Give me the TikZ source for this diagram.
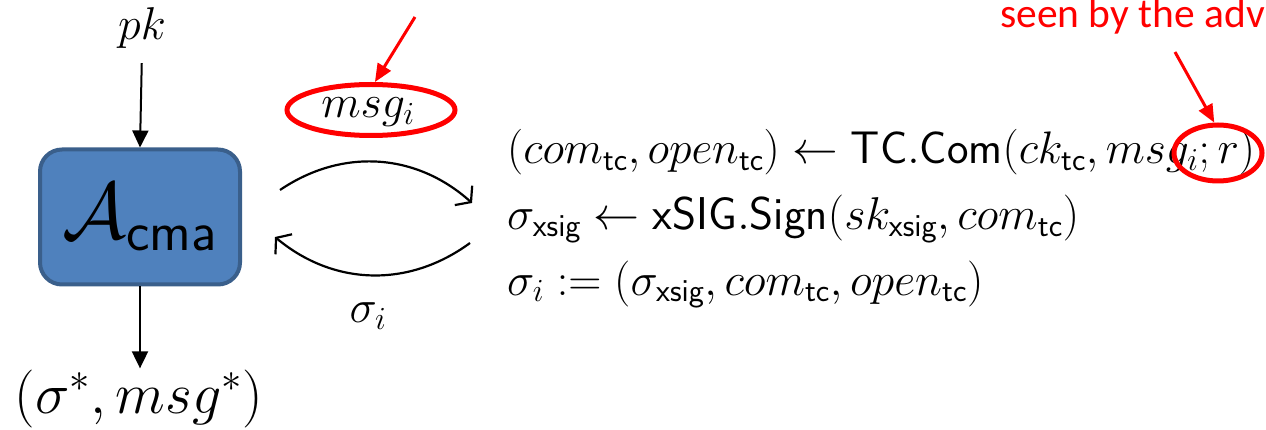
\RequirePackage{fix-cm}
\documentclass[tikz,border=0pt]{standalone}
\usepackage{fontspec}
\newfontfamily\calib{Carlito}
\usetikzlibrary{arrows.meta,shapes.geometric}
\definecolor{boxfill}{HTML}{4F81BD}
\definecolor{boxline}{HTML}{3A5F8B}
\definecolor{hired}{HTML}{FF0000}
\begin{document}
\begin{tikzpicture}[x=1pt,y=-1pt,
  mathtxt/.style={font=\fontsize{46}{54}\selectfont, inner sep=2pt},
  bigmath/.style={font=\fontsize{58}{66}\selectfont, inner sep=1pt},
  blackarrow/.style={line width=2pt, -{Triangle[length=17pt,width=16pt]}},
  curvearrow/.style={line width=2.2pt, -{Straight Barb[length=10pt,width=26pt]}},
  redarrow/.style={hired, line width=3pt, -{Triangle[length=18pt,width=15pt]}},
  redring/.style={ellipse, draw=hired, line width=5pt, inner sep=0pt},
  advbox/.style={draw=boxline, fill=boxfill, line width=4pt, rounded corners=22pt,
    minimum width=200, minimum height=135, font=\fontsize{80}{96}\selectfont}]
\useasboundingbox (0,0) rectangle (1266,430);

% adversary box
\node[advbox] (A) at (140,217) {$\mathcal{A}_{\mathsf{cma}}$};
\node[mathtxt, anchor=base] (pk) at (142,40) {$pk$};
\node[bigmath, anchor=base] (out) at (139,413) {$(\sigma^*, msg^*)$};
\draw[blackarrow, shorten <=12pt] (pk.south) -- (A.north);
\draw[blackarrow] (A.south) -- (A.south |- out.north);

% message and signature
\node[redring, minimum width=168, minimum height=51] (ell1) at (371,110) {};
\node[mathtxt, anchor=base] (msg) at (368,118) {$msg_i$};
\node[mathtxt, anchor=base] (sig) at (368,323) {$\sigma_i$};

% signing oracle
\node[mathtxt, anchor=base west, inner sep=0pt, font=\fontsize{45.6}{54}\selectfont] (l1) at (507,164)
  {$(com_{\mathsf{tc}}, open_{\mathsf{tc}}) \leftarrow \mathsf{TC.Com}(ck_{\mathsf{tc}}, msg_i; r)$};
\node[mathtxt, anchor=base west, inner sep=0pt] (l2) at (507,230)
  {$\sigma_{\mathsf{xsig}} \leftarrow \mathsf{xSIG.Sign}(sk_{\mathsf{xsig}}, com_{\mathsf{tc}})$};
\node[mathtxt, anchor=base west, inner sep=0pt] (l3) at (507,295)
  {$\sigma_i := (\sigma_{\mathsf{xsig}}, com_{\mathsf{tc}}, open_{\mathsf{tc}})$};

\coordinate (c1) at (280,190);
\coordinate (c2) at (472,203);
\coordinate (c3) at (470,243);
\coordinate (c4) at (275,237);
\draw[curvearrow] (c1) to[bend left=38] (c2);
\draw[curvearrow] (c3) to[bend left=38] (c4);

% red annotations
\coordinate (r1) at (415,17);
\draw[redarrow] (r1) -- (ell1.82);
\node[redring, minimum width=88, minimum height=56] (ell2) at (1218,153) {};
\node[hired, anchor=base west, inner sep=0pt, font=\calib\fontsize{41.5}{48}\selectfont] (note) at (1000,28) {seen by the adv};
\coordinate (r2) at (1175,52);
\draw[redarrow] (r2) -- (ell2.97);
\end{tikzpicture}
\end{document}
